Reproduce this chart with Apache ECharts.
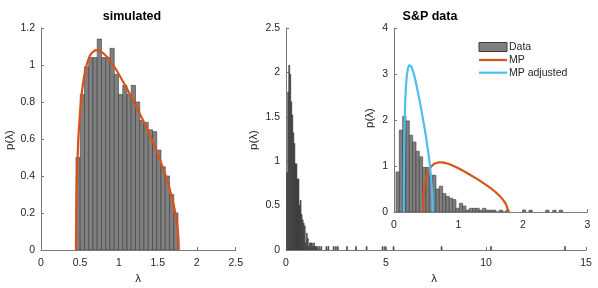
<!DOCTYPE html>
<html>
<head>
<meta charset="utf-8">
<script src="https://cdn.jsdelivr.net/npm/echarts@6/dist/echarts.min.js"></script>
<style>
html,body{margin:0;padding:0;background:#fff;}
#c{width:598px;height:288px;}
</style>
</head>
<body>
<div id="c"></div>
<script>
// ---------- data ----------
// simulated histogram (density per bin)
const simBinStart = 0.449;
const simBinWidth = 0.0546;
const simDensity = [0.50, 0.84, 0.99, 1.04, 1.04, 1.14, 1.04, 1.04, 1.09, 0.95, 0.84, 0.89,
                    0.84, 0.89, 0.80, 0.70, 0.69, 0.65, 0.64, 0.54, 0.45, 0.40, 0.30, 0.20];
// MP curve (lambda, p)
const mpLambda = [0.449, 0.452, 0.46, 0.47, 0.48, 0.50, 0.52, 0.55, 0.575, 0.60, 0.625, 0.65, 0.70, 0.75,
                  0.80, 0.85, 0.90, 0.95, 1.00, 1.10, 1.20, 1.30, 1.40, 1.45, 1.50, 1.55, 1.60, 1.65,
                  1.70, 1.73, 1.75, 1.76, 1.766, 1.769];
const mpP      = [0, 0.20, 0.38, 0.51, 0.61, 0.74, 0.84, 0.93, 0.985, 1.02, 1.048, 1.065, 1.08, 1.078,
                  1.064, 1.043, 1.016, 0.985, 0.95, 0.876, 0.795, 0.71, 0.618, 0.569, 0.518, 0.462, 0.403, 0.335,
                  0.252, 0.189, 0.131, 0.09, 0.052, 0];
// MP adjusted curve (lambda, p)
const mpAdjLambda = [0.152, 0.153, 0.156, 0.159, 0.163, 0.170, 0.176, 0.186, 0.195, 0.203, 0.212, 0.220,
                     0.237, 0.254, 0.271, 0.305, 0.339, 0.373, 0.407, 0.441, 0.475, 0.492, 0.508, 0.525,
                     0.542, 0.559, 0.576, 0.586, 0.593, 0.597, 0.599, 0.600];
const mpAdjP      = [0, 0.60, 1.12, 1.51, 1.80, 2.18, 2.47, 2.74, 2.91, 3.01, 3.09, 3.14,
                     3.19, 3.20, 3.16, 3.02, 2.82, 2.59, 2.35, 2.09, 1.82, 1.68, 1.53, 1.36,
                     1.19, 0.99, 0.74, 0.56, 0.39, 0.27, 0.15, 0];
// S&P eigenvalue histogram
const spBinStart = 0.031;
const spBinWidth = 0.0517;
const spDensity = [0.87, 1.78, 2.08, 1.98, 1.67, 1.52, 1.32, 1.20, 0.97, 0.97, 0.80, 0.80,
                   0.50, 0.56, 0.40, 0.34, 0.30, 0.27, 0.08, 0.19, 0.13, 0.04, 0.08, 0.08,
                   0.08, 0.04, 0.08, 0.04, 0.04, 0.04, 0, 0.04, 0, 0.04];
// isolated large eigenvalues (bin centers), one count each
const spTailLambda = [2.02, 2.12, 2.38, 2.49, 2.59, 3.05, 3.50, 4.03, 4.83, 4.95, 5.38, 7.78, 10.25, 13.95];
const spTailDensity = [0.039, 0.039, 0.039, 0.039, 0.039, 0.039, 0.039, 0.039, 0.039, 0.039, 0.039, 0.039, 0.039, 0.039];
const legendNames = ['Data', 'MP', 'MP adjusted'];

// ---------- build ----------
const simHist = simDensity.map((h, k) => [simBinStart + k * simBinWidth, simBinStart + (k + 1) * simBinWidth, h]);
const spHist = spDensity.map((h, k) => [spBinStart + k * spBinWidth, spBinStart + (k + 1) * spBinWidth, h])
  .concat(spTailLambda.map((c, i) => [c - spBinWidth / 2, c + spBinWidth / 2, spTailDensity[i]]));
const mpData = mpLambda.map((x, i) => [x, mpP[i]]);
const mpAdjData = mpAdjLambda.map((x, i) => [x, mpAdjP[i]]);

const TXT = '#262626';
const AX = '#7a7a7a';
const FONT = 'Liberation Sans, Arial, sans-serif';
const ORANGE = '#D95319';
const BLUE = '#4DBEEE';

function histRender(fill, stroke, lw) {
  return function (params, api) {
    const p0 = api.coord([api.value(0), api.value(2)]);
    const p1 = api.coord([api.value(1), 0]);
    return {
      type: 'rect',
      shape: { x: p0[0], y: p0[1], width: p1[0] - p0[0], height: p1[1] - p0[1] },
      style: { fill: fill, stroke: stroke, lineWidth: lw }
    };
  };
}

function axisCommon(min, max, interval) {
  return {
    type: 'value', min: min, max: max, interval: interval,
    axisLine: { show: true, lineStyle: { color: AX, width: 1 } },
    axisTick: { show: true, inside: true, length: 3, lineStyle: { color: AX } },
    splitLine: { show: false },
    axisLabel: { color: TXT, fontSize: 10.5, fontFamily: FONT, margin: 6 }
  };
}

const chart = echarts.init(document.getElementById('c'), null, { renderer: 'canvas' });
const xa0 = axisCommon(0, 2.5, 0.5); xa0.gridIndex = 0; xa0.axisLabel.margin = 8;
const ya0 = axisCommon(0, 1.2, 0.2); ya0.gridIndex = 0;
const xa1 = axisCommon(0, 15, 5); xa1.gridIndex = 1; xa1.axisLabel.margin = 8;
const ya1 = axisCommon(0, 2.5, 0.5); ya1.gridIndex = 1;
const xa2 = axisCommon(0, 3, 1); xa2.gridIndex = 2; xa2.axisLabel.margin = 8;
const ya2 = axisCommon(0, 4, 1); ya2.gridIndex = 2;

const txt = (x, y, s, font, rot) => ({
  type: 'text', x: x, y: y, rotation: rot || 0, z: 100,
  style: { text: s, fill: TXT, font: font, textAlign: 'center', textVerticalAlign: 'middle' }
});
const LX = 479, LW = 28;
const lineSeries = (name, data, color) => ({
  type: 'line', name: name, xAxisIndex: 2, yAxisIndex: 2, data: data, showSymbol: false, symbol: 'none',
  smooth: false, lineStyle: { color: color, width: 2.2, join: 'round' }, itemStyle: { color: color }, z: 5
});

const mpSim = lineSeries('MP sim', mpData, ORANGE); mpSim.xAxisIndex = 0; mpSim.yAxisIndex = 0; mpSim.z = 3;

const option = {
  animation: false,
  backgroundColor: '#fff',
  grid: [
    { left: 41, top: 28, width: 194.7, height: 222 },
    { left: 286, top: 28, width: 300, height: 222 },
    { left: 394, top: 28, width: 193.3, height: 184, backgroundColor: '#fff', show: true, borderWidth: 0 }
  ],
  xAxis: [xa0, xa1, xa2],
  yAxis: [ya0, ya1, ya2],
  series: [
    { type: 'custom', name: 'sim', xAxisIndex: 0, yAxisIndex: 0, clip: true,
      renderItem: histRender('#808080', '#3c3c3c', 0.6), encode: { x: [0, 1], y: 2 }, data: simHist, z: 2 },
    mpSim,
    { type: 'custom', name: 'main', xAxisIndex: 1, yAxisIndex: 1, clip: true,
      renderItem: histRender('#505050', '#333333', 0.5), encode: { x: [0, 1], y: 2 }, data: spHist, z: 2 },
    { type: 'custom', name: legendNames[0], xAxisIndex: 2, yAxisIndex: 2, clip: true,
      renderItem: histRender('#808080', '#3c3c3c', 0.6), encode: { x: [0, 1], y: 2 }, data: spHist, z: 4 },
    lineSeries(legendNames[1], mpData, ORANGE),
    lineSeries(legendNames[2], mpAdjData, BLUE)
  ],
  graphic: [
    { type: 'text', x: 132, y: 17, style: { text: 'simulated', fill: '#000', font: 'bold 12.5px ' + FONT, textAlign: 'center', textVerticalAlign: 'middle' } },
    { type: 'text', x: 430, y: 17, style: { text: 'S&P data', fill: '#000', font: 'bold 12.5px ' + FONT, textAlign: 'center', textVerticalAlign: 'middle' } },
    txt(10, 140, 'p(λ)', '11.5px ' + FONT, Math.PI / 2),
    txt(254, 140, 'p(λ)', '11.5px ' + FONT, Math.PI / 2),
    txt(370, 118, 'p(λ)', '11.5px ' + FONT, Math.PI / 2),
    txt(138, 279, 'λ', '11.5px ' + FONT),
    txt(434, 279, 'λ', '11.5px ' + FONT),
    // legend
    { type: 'rect', z: 100, shape: { x: LX, y: 42.5, width: LW, height: 9 }, style: { fill: '#808080', stroke: '#3c3c3c', lineWidth: 1 } },
    { type: 'line', z: 100, shape: { x1: LX, y1: 60, x2: LX + LW, y2: 60 }, style: { stroke: ORANGE, lineWidth: 2.2 } },
    { type: 'line', z: 100, shape: { x1: LX, y1: 72.7, x2: LX + LW, y2: 72.7 }, style: { stroke: BLUE, lineWidth: 2.2 } },
    { type: 'text', z: 100, x: LX + LW + 2, y: 47, style: { text: legendNames[0], fill: TXT, font: '10.5px ' + FONT, textAlign: 'left', textVerticalAlign: 'middle' } },
    { type: 'text', z: 100, x: LX + LW + 2, y: 60, style: { text: legendNames[1], fill: TXT, font: '10.5px ' + FONT, textAlign: 'left', textVerticalAlign: 'middle' } },
    { type: 'text', z: 100, x: LX + LW + 2, y: 72.7, style: { text: legendNames[2], fill: TXT, font: '10.5px ' + FONT, textAlign: 'left', textVerticalAlign: 'middle' } }
  ]
};
chart.setOption(option);
</script>
</body>
</html>
